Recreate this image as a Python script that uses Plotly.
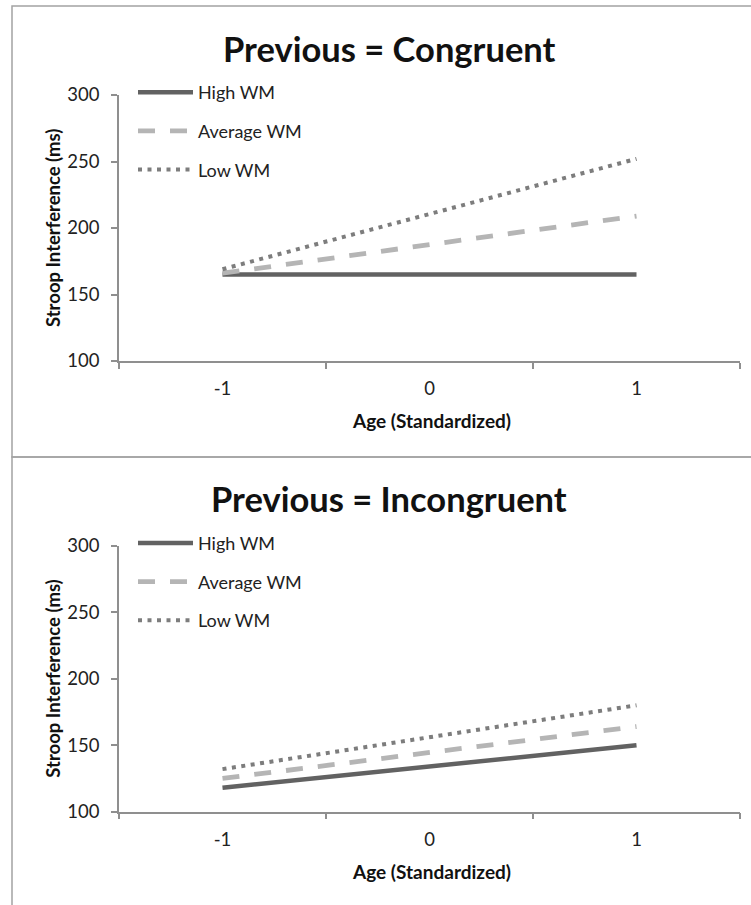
import plotly.graph_objects as go

# ---- data ----
age_levels = ["-1", "0", "1"]
age_ends = ["-1", "1"]
series_names = ["High WM", "Average WM", "Low WM"]

congruent_high = [165, 165]
congruent_avg = [166, 209]
congruent_low = [169, 252]

incongruent_high = [118, 150]
incongruent_avg = [125, 164]
incongruent_low = [132, 180]

y_ticks = [100, 150, 200, 250, 300]
panel_titles = ["Previous = Congruent", "Previous = Incongruent"]
x_title = "Age (Standardized)"
y_title = "Stroop Interference (ms)"

# ---- styles ----
W, H = 751, 905
FONT = "Lato"
styles = [
    dict(color="#626262", width=4.5, dash="solid"),
    dict(color="#b5b5b5", width=4.8, dash="17px,15px"),
    dict(color="#7d7d7d", width=4, dash="4px,5.5px"),
]
AX_COL = "#8f8f8f"


def px(xp):
    return xp / W


def py(yp):
    return 1 - yp / H


fig = go.Figure()

panels = [
    ([congruent_high, congruent_avg, congruent_low], "x", "y", "legend"),
    ([incongruent_high, incongruent_avg, incongruent_low], "x2", "y2", "legend2"),
]

for vals, xa, ya, lg in panels:
    for name, v, st in zip(series_names, vals, styles):
        fig.add_trace(go.Scatter(
            x=age_ends, y=v, mode="lines", name=name,
            line=dict(color=st["color"], width=st["width"], dash=st["dash"]),
            xaxis=xa, yaxis=ya, legend=lg, legendgroup=lg + name,
            hoverinfo="skip",
        ))

axis_common_x = dict(
    type="category", categoryorder="array", categoryarray=age_levels,
    range=[-0.5, 2.5], showline=True, linecolor=AX_COL, linewidth=1.5,
    ticks="outside", tickson="boundaries", ticklen=6, tickcolor=AX_COL, tickwidth=1.5,
    showgrid=False, zeroline=False, fixedrange=True, automargin=False,
    tickfont=dict(family=FONT, size=18.5, color="#222"), ticklabelstandoff=10,
)
axis_common_y = dict(
    range=[100, 300], tickvals=y_ticks, showline=True, linecolor=AX_COL, linewidth=1.5,
    ticks="outside", ticklen=6, tickcolor=AX_COL, tickwidth=1.5,
    showgrid=False, zeroline=False, fixedrange=True, automargin=False,
    tickfont=dict(family=FONT, size=18.5, color="#222"), ticklabelstandoff=8,
)

x_dom = [px(119), px(740)]
fig.update_layout(
    template="none",
    width=W, height=H, margin=dict(l=0, r=0, t=0, b=0, pad=0, autoexpand=False),
    paper_bgcolor="white", plot_bgcolor="white",
    xaxis=dict(domain=x_dom, anchor="y", **axis_common_x),
    yaxis=dict(domain=[py(361), py(95)], anchor="x", **axis_common_y),
    xaxis2=dict(domain=x_dom, anchor="y2", **axis_common_x),
    yaxis2=dict(domain=[py(811.7), py(545.7)], anchor="x2", **axis_common_y),
)

legend_common = dict(
    font=dict(family=FONT, size=18, color="#222"), bgcolor="rgba(0,0,0,0)",
    borderwidth=0, xanchor="left", yanchor="top", tracegroupgap=12.3, itemwidth=55,
)
fig.update_layout(
    legend=dict(x=px(133), y=py(74), **legend_common),
    legend2=dict(x=px(133), y=py(74 + 450.7), **legend_common),
)

annotations = []
shapes = []
for i, off in enumerate([0.0, 450.7]):
    annotations.append(dict(
        text="<b>" + panel_titles[i] + "</b>", xref="paper", yref="paper",
        x=px(389), y=py(48 + off), xanchor="center", yanchor="middle",
        showarrow=False, font=dict(family=FONT, size=34.5, color="#111"),
    ))
    annotations.append(dict(
        text="<b>" + x_title + "</b>", xref="paper", yref="paper",
        x=px(431), y=py(421 + off), xanchor="center", yanchor="middle",
        showarrow=False, font=dict(family=FONT, size=19, color="#111"),
    ))
    annotations.append(dict(
        text="<b>" + y_title + "</b>", xref="paper", yref="paper",
        x=px(53), y=py(228 + off), xanchor="center", yanchor="middle",
        textangle=-90, showarrow=False, font=dict(family=FONT, size=18.5, color="#111"),
    ))

shapes.append(dict(type="rect", xref="paper", yref="paper",
                   x0=px(12), x1=1.02, y0=py(457), y1=py(6),
                   line=dict(color="#a3a3a3", width=1.5), fillcolor="rgba(0,0,0,0)", layer="below"))
shapes.append(dict(type="rect", xref="paper", yref="paper",
                   x0=px(12), x1=1.02, y0=-0.02, y1=py(457),
                   line=dict(color="#a3a3a3", width=1.5), fillcolor="rgba(0,0,0,0)", layer="below"))

fig.update_layout(annotations=annotations, shapes=shapes)

fig.write_html("out.html", config={"displayModeBar": False},
               post_script="document.body.style.margin='0';document.body.style.overflow='hidden';")
